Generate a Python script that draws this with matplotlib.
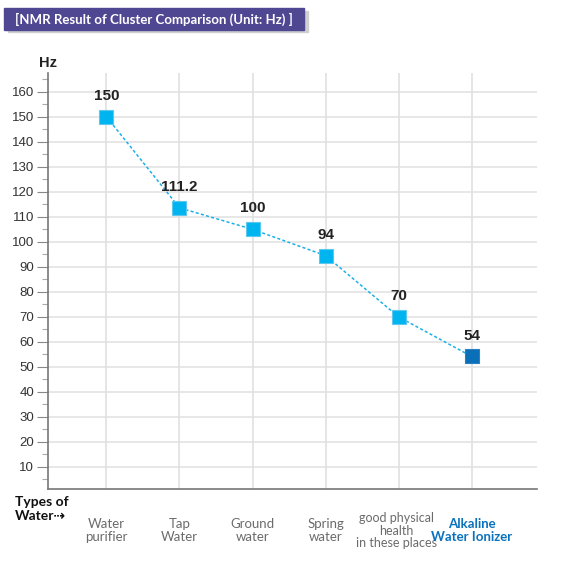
import matplotlib.pyplot as plt
from matplotlib.patches import Rectangle
from matplotlib.ticker import MultipleLocator

# data (marker heights) and the printed value labels
categories = ['Water\npurifier', 'Tap\nWater', 'Ground\nwater', 'Spring\nwater',
              'good physical\nhealth\nin these places', 'Alkaline\nWater Ionizer']
hz_values = [150, 113.6, 105, 94.5, 70, 54.2]
value_labels = ['150', '111.2', '100', '94', '70', '54']
marker_colors = ['#00b4ef', '#00b4ef', '#00b4ef', '#00b4ef', '#00b4ef', '#0a6fb8']
label_colors = ['#6b6b6b'] * 5 + ['#0a72bd']

narrow = ['Lato', 'DejaVu Sans']

fig = plt.figure(figsize=(5.61, 5.70), dpi=100)
ax = fig.add_axes([48 / 561, 1 - 489 / 570, (536.7 - 48) / 561, (489 - 73) / 570])

x = list(range(len(categories)))
ax.plot(x, hz_values, color='#1ab0e8', lw=1.1, ls=(0, (2, 1.5)), zorder=3)
for xi, yi, c in zip(x, hz_values, marker_colors):
    ax.plot(xi, yi, marker='s', ms=10.5, color=c, mec='#5cc8f0' if c != '#0a6fb8' else '#2a80c0',
            mew=0.8, zorder=4)
for xi, yi, t in zip(x, hz_values, value_labels):
    ax.annotate(t, (xi, yi), xytext=(0, 10), textcoords='offset points', ha='center', va='bottom',
                fontsize=11, fontweight='bold', color='#222222', family='Liberation Sans')

ax.set_xlim(-0.8, 5.89)
ax.set_ylim(1.2, 167.5)
ax.set_xticks(x)
ax.set_xticklabels([])
ax.tick_params(axis='x', length=0)
ax.yaxis.set_major_locator(MultipleLocator(10))
ax.yaxis.set_minor_locator(MultipleLocator(5))
ax.set_yticks(range(10, 161, 10))
ax.tick_params(axis='y', which='major', length=8, width=0.8, color='#888888', labelsize=9.5,
               labelcolor='#333333', pad=2)
ax.tick_params(axis='y', which='minor', length=4, width=0.8, color='#aaaaaa')
for lab in ax.get_yticklabels():
    lab.set_family('Liberation Sans')

# horizontal grid only up to 160, vertical grid at each category
for v in range(10, 161, 10):
    ax.axhline(v, color='#e3e3e3', lw=1.2, zorder=1)
for xi in x:
    ax.axvline(xi, color='#e0e0e0', lw=1.2, zorder=1)

for s in ['top', 'right']:
    ax.spines[s].set_visible(False)
ax.spines['left'].set_color('#777777')
ax.spines['bottom'].set_color('#777777')
ax.spines['left'].set_linewidth(1.2)
ax.spines['bottom'].set_linewidth(1.2)

# category labels under the axis
for xi, t, c in zip(x, categories, label_colors):
    ax.text(xi - (0.03 if xi == 4 else 0), -0.1, t, transform=ax.get_xaxis_transform(),
            ha='center', va='center', fontsize=9 if xi == 4 else 9.5, color=c, family=narrow,
            linespacing=1.05, fontweight='bold' if c == '#0a72bd' else 'normal')

fig.text(15 / 561, 1 - 509 / 570, 'Types of\nWater\u21e2', ha='left', va='center', fontsize=10,
         fontweight='bold', color='#111111', family=narrow, linespacing=1.1)
fig.text(48 / 561, 1 - 63 / 570, 'Hz', ha='center', va='center', fontsize=10.5,
         fontweight='bold', color='#222222', family='Liberation Sans')

# title box with shadow
fig.patches.append(Rectangle((8 / 561, 1 - 32 / 570), 300 / 561, 21 / 570,
                             transform=fig.transFigure, color='#cfcfcf', zorder=0))
fig.patches.append(Rectangle((4 / 561, 1 - 29.5 / 570), 300 / 561, 21.5 / 570,
                             transform=fig.transFigure, color='#4f4792', zorder=1))
fig.text(154 / 561, 1 - 19 / 570, '[NMR Result of Cluster Comparison (Unit: Hz) ]', ha='center',
         va='center', fontsize=9.5, color='white', family=narrow, fontweight='bold', zorder=2)

fig.savefig('out.png', dpi=100)
